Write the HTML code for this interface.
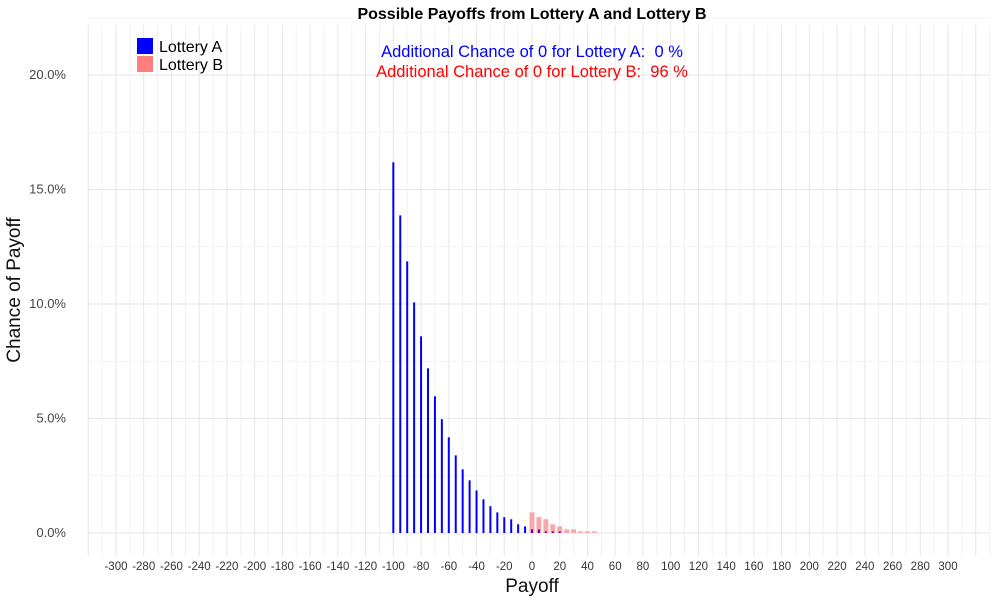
<!DOCTYPE html>
<html><head><meta charset="utf-8"><style>
body{margin:0;background:#fff;font-family:"Liberation Sans",sans-serif}
text{white-space:pre}
</style></head><body>
<svg id="c" width="1000" height="600" xmlns="http://www.w3.org/2000/svg" font-family="Liberation Sans, sans-serif">
<g id="grid"></g><g id="bars"></g><g id="axes"></g>
<text x="532" y="19" text-anchor="middle" font-size="16" font-weight="bold">Possible Payoffs from Lottery A and Lottery B</text>
<text x="532" y="592" text-anchor="middle" font-size="19" fill="#111">Payoff</text>
<text transform="translate(20,290) rotate(-90)" text-anchor="middle" font-size="19" fill="#111">Chance of Payoff</text>
<rect x="137" y="38" width="16" height="16" fill="#0000ff"/>
<text x="159" y="52" font-size="16">Lottery A</text>
<rect x="137" y="56" width="16" height="16" fill="#ff7f7f"/>
<text x="159" y="70" font-size="16">Lottery B</text>
<text x="532" y="57" text-anchor="middle" font-size="16.5" fill="#0000ff" xml:space="preserve">Additional Chance of 0 for Lottery A:  0 %</text>
<text x="532" y="77" text-anchor="middle" font-size="16.5" fill="#ff0000" xml:space="preserve">Additional Chance of 0 for Lottery B:  96 %</text>
</svg>
<script>
const payoffsA=[-100,-95,-90,-85,-80,-75,-70,-65,-60,-55,-50,-45,-40,-35,-30,-25,-20,-15,-10,-5,0,5,10,15,20];
const probsA=[16.19,13.87,11.86,10.07,8.59,7.19,5.97,4.97,4.18,3.39,2.78,2.30,1.86,1.47,1.17,0.90,0.69,0.60,0.38,0.29,0.16,0.16,0.07,0.07,0.07];
const payoffsB=[0,5,10,15,20,25,30,35,40,45];
const probsB=[0.90,0.69,0.60,0.38,0.29,0.16,0.16,0.07,0.07,0.07];
const xTicks=[-300,-280,-260,-240,-220,-200,-180,-160,-140,-120,-100,-80,-60,-40,-20,0,20,40,60,80,100,120,140,160,180,200,220,240,260,280,300];
const yTicks=[0,5,10,15,20];
const NS='http://www.w3.org/2000/svg';
const X=v=>532+v*1.3867, Y=p=>533-p*22.9;
const L=88,R=990,T=25,B=556;
function mk(t,a,p){const e=document.createElementNS(NS,t);for(const k in a)e.setAttribute(k,a[k]);p.appendChild(e);return e;}
const g=document.getElementById('grid'),b=document.getElementById('bars'),ax=document.getElementById('axes');
for(let v=-320;v<=330;v+=10){const l=mk('line',{x1:X(v),x2:X(v),y1:T,y2:B,stroke:v%20===0?'#e6e6e6':'#f2f2f2','stroke-width':1},g);

}
for(let p=0;p<=22.5;p+=2.5){const l=mk('line',{x1:L,x2:R,y1:Y(p),y2:Y(p),stroke:p%5===0?'#e6e6e6':'#f2f2f2','stroke-width':1},g);

}
payoffsB.forEach((v,i)=>{const r=mk('rect',{x:X(v)-2.5,y:Y(probsB[i]),width:5,height:Y(0)-Y(probsB[i]),fill:'#f8a8a8'},b);

});
payoffsA.forEach((v,i)=>{const r=mk('rect',{x:X(v)-1,y:Y(probsA[i]),width:2,height:Y(0)-Y(probsA[i]),fill:v>=0?'#5a00b0':'#0000ff'},b);

});
xTicks.forEach(v=>{const t=mk('text',{x:X(v),y:570,'text-anchor':'middle','font-size':11.5,fill:'#333'},ax);t.textContent=v;

});
yTicks.forEach(p=>{const t=mk('text',{x:66,y:Y(p)+4,'text-anchor':'end','font-size':13,fill:'#444'},ax);t.textContent=p.toFixed(1)+'%';

});
</script>
</body></html>
